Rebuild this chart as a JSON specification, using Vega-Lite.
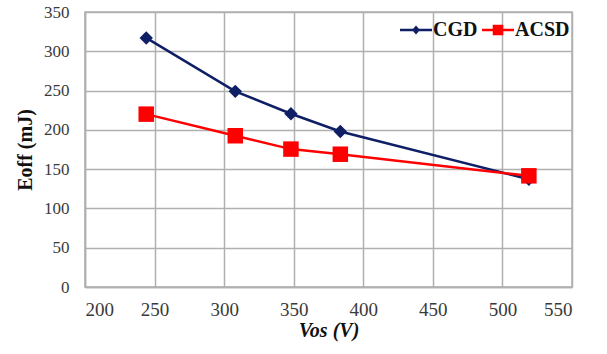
{
  "$schema": "https://vega.github.io/schema/vega-lite/v6.json",
  "width": 487,
  "height": 275,
  "autosize": "none",
  "padding": {"left": 85, "top": 12, "right": 35, "bottom": 67},
  "background": "white",
  "config": {
    "font": "Liberation Serif",
    "view": {"stroke": "#b0b0b0", "strokeWidth": 1.5},
    "axis": {
      "labelFont": "Liberation Serif",
      "labelColor": "#3a3a3a",
      "titleFont": "Liberation Serif",
      "titleFontWeight": "bold",
      "titleColor": "#111111",
      "gridColor": "#b0b0b0",
      "gridWidth": 1.5,
      "domainColor": "#b0b0b0",
      "domainWidth": 1.5,
      "ticks": false
    },
    "legend": {"labelFont": "Liberation Serif"}
  },
  "data": {
    "values": [
      {"V": 244, "E": 317, "series": "CGD"},
      {"V": 308, "E": 249, "series": "CGD"},
      {"V": 348, "E": 220.5, "series": "CGD"},
      {"V": 383.5, "E": 198, "series": "CGD"},
      {"V": 519, "E": 137, "series": "CGD"},
      {"V": 244, "E": 220, "series": "ACSD"},
      {"V": 308, "E": 192.5, "series": "ACSD"},
      {"V": 348, "E": 175.5, "series": "ACSD"},
      {"V": 383.5, "E": 169, "series": "ACSD"},
      {"V": 519, "E": 141.5, "series": "ACSD"}
    ]
  },
  "encoding": {
    "x": {
      "field": "V", "type": "quantitative",
      "scale": {"domain": [200, 550], "nice": false, "zero": false},
      "axis": {"values": [200, 250, 300, 350, 400, 450, 500, 550], "labelFontSize": 19, "labelPadding": 13, "title": "Vos (V)", "titleFontSize": 20, "titlePadding": 1, "titleFontStyle": "italic"}
    },
    "y": {
      "field": "E", "type": "quantitative",
      "scale": {"domain": [0, 350], "nice": false},
      "axis": {"values": [0, 50, 100, 150, 200, 250, 300, 350], "labelFontSize": 17, "labelPadding": 16, "title": "Eoff (mJ)", "titleFontSize": 20, "titlePadding": 8}
    }
  },
  "layer": [
    {
      "mark": {"type": "line", "strokeWidth": 2.5},
      "encoding": {
        "color": {"field": "series", "type": "nominal", "scale": {"domain": ["CGD", "ACSD"], "range": ["#0f1f66", "#ff0000"]}, "legend": null}
      }
    },
    {
      "mark": {"type": "point", "filled": true, "opacity": 1},
      "encoding": {
        "color": {"field": "series", "type": "nominal", "scale": {"domain": ["CGD", "ACSD"], "range": ["#0f1f66", "#ff0000"]}, "legend": null},
        "shape": {"field": "series", "type": "nominal", "scale": {"domain": ["CGD", "ACSD"], "range": ["diamond", "square"]}, "legend": null},
        "size": {"field": "series", "type": "nominal", "scale": {"domain": ["CGD", "ACSD"], "range": [180, 240]}, "legend": null}
      }
    },
    {
      "transform": [{"filter": "datum.E < 0"}],
      "mark": {"type": "point", "filled": true, "opacity": 1},
      "encoding": {
        "color": {"field": "series", "type": "nominal", "scale": {"domain": ["CGD", "ACSD"], "range": ["#0f1f66", "#ff0000"]},
          "legend": {
            "orient": "top-right", "direction": "horizontal", "title": null,
            "labelFontSize": 20, "labelFontWeight": "bold", "labelColor": "#111111",
            "symbolSize": 1024, "symbolOpacity": 1, "symbolStrokeWidth": 0,
            "labelOffset": 1, "columnPadding": 4, "offset": 2, "padding": 0
          }
        },
        "shape": {"field": "series", "type": "nominal", "scale": {"domain": ["CGD", "ACSD"], "range": ["M-1,-0.08L1,-0.08L1,0.08L-1,0.08ZM0,-0.28L0.25,0L0,0.28L-0.25,0Z", "M-1,-0.08L1,-0.08L1,0.08L-1,0.08ZM-0.33,-0.33L0.33,-0.33L0.33,0.33L-0.33,0.33Z"]},
          "legend": {
            "orient": "top-right", "direction": "horizontal", "title": null,
            "labelFontSize": 20, "labelFontWeight": "bold", "labelColor": "#111111",
            "symbolSize": 1024, "symbolOpacity": 1, "symbolStrokeWidth": 0,
            "labelOffset": 1, "columnPadding": 4, "offset": 2, "padding": 0
          }
        }
      }
    }
  ],
  "resolve": {
    "scale": {"shape": "independent", "color": "independent", "size": "independent"},
    "legend": {"shape": "independent", "color": "independent", "size": "independent"}
  }
}
